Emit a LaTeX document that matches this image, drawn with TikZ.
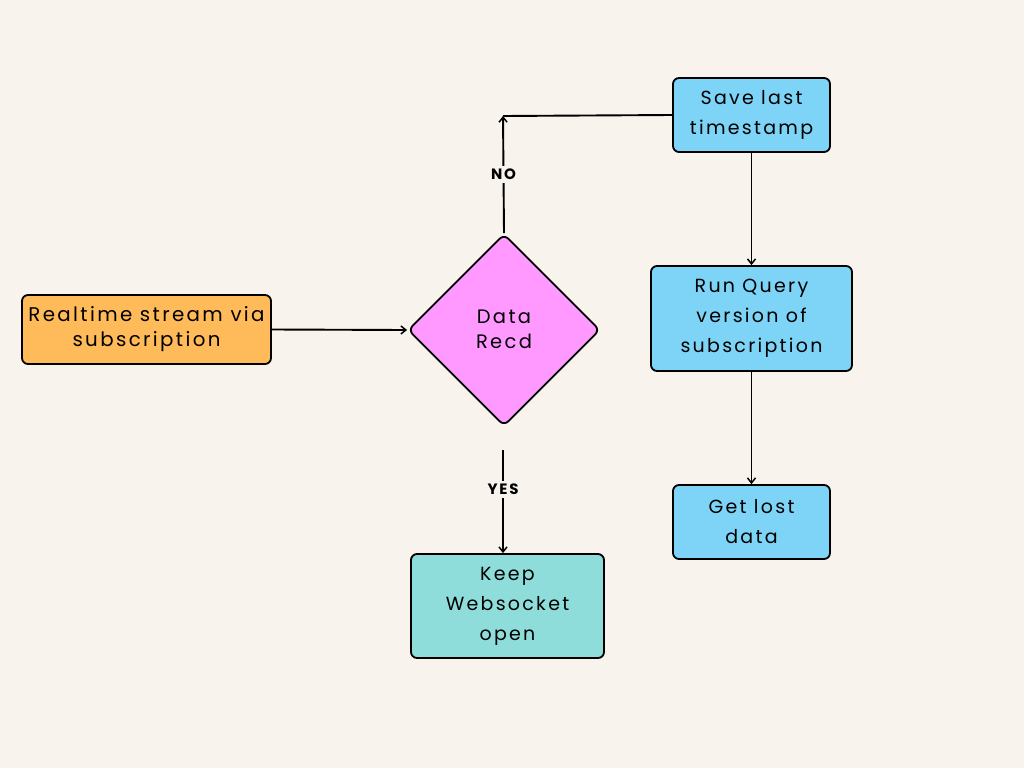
\documentclass[tikz,border=0pt]{standalone}
\usepackage{fontspec}
\setmainfont{Poppins}[LetterSpace=12]
\usetikzlibrary{shapes.geometric,arrows.meta}
\definecolor{bg}{HTML}{F8F3EC}
\definecolor{orangebox}{HTML}{FFBA5A}
\definecolor{pinkbox}{HTML}{FF99FF}
\definecolor{bluebox}{HTML}{7DD4F6}
\definecolor{tealbox}{HTML}{8EDDDB}
\tikzset{
  box/.style={draw=black, line width=1.8pt, rounded corners=6pt, align=center, inner sep=0pt, font=\fontsize{19}{30}\selectfont},
  conn/.style={line width=1.9pt, draw=black},
  arr/.style={conn, -{Straight Barb[length=5pt,width=8pt,line width=1.5pt]}},
  lbl/.style={fill=bg, inner sep=3pt, font=\bfseries\fontsize{15}{17}\selectfont}
}
\begin{document}
\begin{tikzpicture}[x=1pt,y=-1pt]
\fill[bg] (0,0) rectangle (1024,768);
\useasboundingbox (0,0) rectangle (1024,768);
\node[box, fill=orangebox, minimum width=249pt, minimum height=69pt, font=\fontsize{19.8}{25}\selectfont] (rt) at (146.5,329.5) {Realtime stream via\\subscription};
\node[draw=black, line width=1.8pt, fill=pinkbox, diamond, rounded corners=6pt, minimum width=192pt, minimum height=192pt, inner sep=0pt] (dr) at (504,330) {};
\node[align=center, font=\fontsize{19.5}{25}\selectfont] (drt) at (504,329) {Data\\Recd};
\node[box, fill=bluebox, minimum width=157pt, minimum height=74pt] (save) at (751.5,115) {Save last\\timestamp};
\node[box, fill=bluebox, minimum width=201pt, minimum height=105pt] (run) at (751.5,318.5) {Run Query\\version of\\subscription};
\node[box, fill=bluebox, minimum width=157pt, minimum height=74pt] (get) at (751.5,522) {Get lost\\data};
\node[box, fill=tealbox, minimum width=193pt, minimum height=104pt] (keep) at (507.5,606) {Keep\\Websocket\\open};
\coordinate (corner) at (503,116);
\coordinate (yesstart) at (503,450);
\draw[arr] (rt.east) -- (dr.west);
\draw[conn] (save.west) -- (corner);
\draw[arr] (dr.north) -- node[lbl, pos=0.5] (no) {NO} (corner);
\draw[arr] (save.south) -- (run.north);
\draw[arr] (run.south) -- (get.north);
\draw[arr] (yesstart) -- node[lbl, pos=0.38] (yes) {YES} (yesstart |- keep.north);
\end{tikzpicture}
\end{document}
